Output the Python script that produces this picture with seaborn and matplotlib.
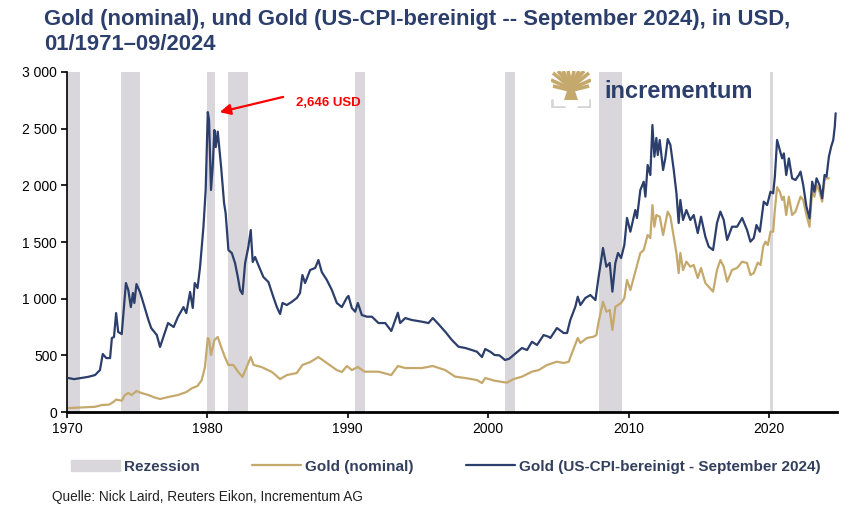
#!/usr/bin/env python3

# Imports:
import matplotlib

matplotlib.use("Agg")
import matplotlib.pyplot as plt
import matplotlib.patches as mpatches
import matplotlib.lines as mlines
import pandas as pd
import seaborn as sns

# Data (decimal year, USD).
real_years = [
    1970.1, 1970.5, 1971.0, 1971.5, 1972.0, 1972.35, 1972.55, 1972.8, 1973.07,
    1973.2, 1973.35, 1973.5, 1973.65, 1973.9, 1974.2, 1974.37, 1974.55, 1974.7,
    1974.8, 1974.95, 1975.2, 1975.44, 1975.8, 1976.0, 1976.4, 1976.63, 1976.87,
    1977.2, 1977.6, 1977.9, 1978.3, 1978.5, 1978.77, 1978.96, 1979.1, 1979.3,
    1979.48, 1979.72, 1979.88, 1980.03, 1980.12, 1980.26, 1980.38, 1980.5,
    1980.6, 1980.74, 1980.98, 1981.19, 1981.3, 1981.5, 1981.74, 1981.97,
    1982.17, 1982.33, 1982.5, 1982.69, 1982.92, 1983.09, 1983.23, 1983.4,
    1983.63, 1983.99, 1984.35, 1984.7, 1984.95, 1985.18, 1985.35, 1985.66,
    1986.0, 1986.37, 1986.6, 1986.77, 1986.96, 1987.32, 1987.68, 1987.91,
    1988.15, 1988.51, 1988.87, 1989.22, 1989.58, 1989.94, 1990.05, 1990.29,
    1990.53, 1990.72, 1991.0, 1991.36, 1991.72, 1992.19, 1992.67, 1993.1,
    1993.38, 1993.57, 1993.73, 1994.09, 1994.56, 1995.28, 1995.75, 1996.06,
    1996.46, 1996.94, 1997.42, 1997.89, 1998.37, 1998.84, 1999.2, 1999.56,
    1999.79, 2000.15, 2000.46, 2000.8, 2001.2, 2001.5, 2001.82, 2002.41,
    2002.77, 2003.12, 2003.48, 2003.95, 2004.31, 2004.43, 2004.9, 2005.38,
    2005.62, 2005.85, 2006.21, 2006.38, 2006.57, 2006.92, 2007.28, 2007.64,
    2007.87, 2008.18, 2008.42, 2008.66, 2008.85, 2009.06, 2009.25, 2009.47,
    2009.7, 2009.89, 2010.13, 2010.48, 2010.6, 2010.84, 2011.08, 2011.2,
    2011.36, 2011.55, 2011.7, 2011.84, 2011.98, 2012.08, 2012.22, 2012.46,
    2012.62, 2012.79, 2012.98, 2013.22, 2013.41, 2013.57, 2013.69, 2013.88,
    2014.12, 2014.4, 2014.64, 2014.93, 2015.16, 2015.47, 2015.71, 2016.02,
    2016.3, 2016.54, 2016.78, 2017.02, 2017.37, 2017.73, 2018.09, 2018.44,
    2018.68, 2018.92, 2019.11, 2019.35, 2019.63, 2019.87, 2020.11, 2020.3,
    2020.42, 2020.58, 2020.77, 2020.94, 2021.06, 2021.23, 2021.42, 2021.65,
    2021.89, 2022.13, 2022.25, 2022.44, 2022.67, 2022.89, 2023.08, 2023.24,
    2023.39, 2023.6, 2023.79, 2023.96, 2024.1, 2024.27, 2024.43, 2024.58,
    2024.69, 2024.75,
]
real_values = [
    300, 290, 300, 310, 326, 370, 512, 476, 476,
    653, 662, 873, 706, 688, 1138, 1076, 926, 1050,
    962, 1129, 1059, 962, 812, 741, 679, 574, 662,
    785, 750, 838, 926, 873, 1059, 918, 1138, 1094,
    1280, 1632, 1959, 2646, 2576, 1959, 2162, 2488,
    2338, 2474, 2162, 1844, 1756, 1429, 1403, 1315,
    1191, 1076, 1041, 1315, 1456, 1606, 1324, 1368,
    1297, 1191, 1147, 1015, 926, 865, 962, 944,
    971, 1006, 1050, 1209, 1138, 1253, 1271, 1341,
    1235, 1165, 1076, 962, 926, 1010, 1024, 918,
    885, 962, 856, 841, 841, 785, 785, 715,
    812, 876, 785, 829, 812, 797, 785, 829,
    776, 709, 635, 576, 565, 547, 532, 485,
    556, 532, 503, 500, 459, 470, 503, 565,
    547, 620, 591, 679, 664, 653, 741, 697,
    697, 812, 929, 1017, 944, 1006, 1032, 988,
    1194, 1447, 1282, 1315, 1062, 1315, 1403, 1359,
    1474, 1712, 1591, 1782, 1712, 1959, 2032, 1900,
    2179, 2091, 2532, 2253, 2418, 2268, 2400, 2135,
    2241, 2409, 2356, 2135, 1932, 1668, 1871, 1694,
    1782, 1694, 1738, 1579, 1723, 1547, 1459, 1429,
    1668, 1768, 1694, 1518, 1635, 1635, 1712, 1606,
    1503, 1535, 1650, 1591, 1856, 1826, 1944, 1929,
    2076, 2400, 2312, 2238, 2282, 2091, 2238, 2062,
    2047, 2091, 2121, 2003, 1812, 1709, 2032, 1944,
    2062, 2003, 1886, 2091, 2076, 2253, 2341, 2400,
    2518, 2636,
]

nominal_years = [
    1970.1, 1971.0, 1972.0, 1972.5, 1973.0, 1973.3, 1973.5, 1973.9, 1974.13,
    1974.37, 1974.6, 1974.95, 1975.3, 1975.8, 1976.2, 1976.63, 1977.2, 1977.9,
    1978.5, 1978.9, 1979.3, 1979.6, 1979.83, 1980.03, 1980.12, 1980.26, 1980.5,
    1980.74, 1980.98, 1981.25, 1981.5, 1981.85, 1982.2, 1982.5, 1982.8,
    1983.09, 1983.3, 1983.86, 1984.6, 1985.18, 1985.66, 1986.37, 1986.77,
    1987.32, 1987.91, 1988.51, 1989.22, 1989.58, 1989.94, 1990.29, 1990.72,
    1991.2, 1992.19, 1993.1, 1993.57, 1994.09, 1995.28, 1996.06, 1996.94,
    1997.65, 1998.37, 1999.2, 1999.56, 1999.79, 2000.46, 2001.34, 2001.82,
    2002.41, 2003.12, 2003.6, 2004.19, 2004.9, 2005.38, 2005.74, 2005.97,
    2006.38, 2006.57, 2007.04, 2007.52, 2007.71, 2007.87, 2008.18, 2008.42,
    2008.66, 2008.85, 2009.06, 2009.47, 2009.7, 2009.89, 2010.13, 2010.48,
    2010.84, 2011.08, 2011.36, 2011.55, 2011.7, 2011.84, 2011.98, 2012.22,
    2012.46, 2012.79, 2012.98, 2013.22, 2013.41, 2013.57, 2013.69, 2013.88,
    2014.12, 2014.4, 2014.64, 2014.93, 2015.16, 2015.47, 2016.02, 2016.3,
    2016.54, 2016.78, 2017.02, 2017.37, 2017.73, 2018.09, 2018.44, 2018.68,
    2018.92, 2019.2, 2019.4, 2019.59, 2019.75, 2019.92, 2020.11, 2020.3,
    2020.42, 2020.58, 2020.77, 2020.94, 2021.06, 2021.23, 2021.42, 2021.65,
    2021.89, 2022.25, 2022.44, 2022.67, 2022.89, 2023.08, 2023.24, 2023.39,
    2023.6, 2023.79, 2023.96, 2024.1, 2024.27,
]
nominal_values = [
    35, 40, 46, 62, 65, 88, 110, 100, 150,
    168, 150, 185, 168, 150, 130, 115, 132, 150,
    176, 210, 230, 282, 397, 653, 640, 503, 635,
    662, 574, 485, 415, 415, 353, 309, 397,
    485, 415, 397, 353, 291, 326, 344, 415,
    441, 485, 432, 370, 353, 406, 370, 397,
    356, 356, 326, 406, 388, 388, 406, 370,
    312, 300, 282, 256, 300, 276, 259, 291,
    312, 356, 370, 415, 444, 432, 444, 521,
    653, 609, 653, 665, 679, 797, 973, 885,
    900, 724, 929, 962, 1006, 1165, 1076, 1238,
    1403, 1429, 1562, 1535, 1826, 1635, 1738, 1723,
    1562, 1768, 1723, 1547, 1403, 1226, 1403, 1253,
    1326, 1282, 1297, 1182, 1271, 1138, 1062, 1253,
    1341, 1282, 1150, 1253, 1271, 1326, 1315, 1209,
    1226, 1318, 1297, 1459, 1503, 1473, 1591, 1591,
    1782, 1983, 1944, 1871, 1900, 1738, 1900, 1738,
    1768, 1900, 1871, 1738, 1635, 1959, 1900, 2003,
    1944, 1856, 2047, 2062, 2062,
]

recession_start = [1970.0, 1973.85, 1980.0, 1981.5, 1990.53, 2001.2, 2007.9, 2020.1]
recession_end = [1970.9, 1975.2, 1980.55, 1982.9, 1991.2, 2001.9, 2009.5, 2020.3]

peak_year = 1980.03
peak_value = 2646
peak_label = "2,646 USD"

x_ticks = [1970, 1980, 1990, 2000, 2010, 2020]
y_ticks = [0, 500, 1000, 1500, 2000, 2500, 3000]

title_text = (
    "Gold (nominal), und Gold (US-CPI-bereinigt -- September 2024), in USD,\n"
    "01/1971\u201309/2024"
)
source_text = "Quelle: Nick Laird, Reuters Eikon, Incrementum AG"
label_recession = "Rezession"
label_nominal = "Gold (nominal)"
label_real = "Gold (US-CPI-bereinigt - September 2024)"

NAVY = "#2C3E6B"
GOLD = "#C5A96C"
GREY = "#D9D7DB"
TEXT = "#333F5C"

sns.set_style("white")
plt.rcParams["font.family"] = ["Liberation Sans", "DejaVu Sans"]
NARROW = ["Liberation Sans Narrow", "Liberation Sans", "DejaVu Sans"]

real_df = pd.DataFrame({"year": real_years, "value": real_values})
nominal_df = pd.DataFrame({"year": nominal_years, "value": nominal_values})

fig = plt.figure(figsize=(8.64, 5.24), dpi=100)
ax = fig.add_axes([0.0775, 0.2137, 0.8913, 0.6489])

for start, end in zip(recession_start, recession_end):
    ax.axvspan(start, end, color=GREY, lw=0, zorder=0)

sns.lineplot(data=nominal_df, x="year", y="value", ax=ax, color=GOLD,
             linewidth=1.6, zorder=2)
sns.lineplot(data=real_df, x="year", y="value", ax=ax, color=NAVY,
             linewidth=1.6, zorder=3)

ax.set_xlim(1970, 2024.85)
ax.set_ylim(0, 3000)
ax.set_xticks(x_ticks)
ax.set_yticks(y_ticks)
ax.set_yticklabels([f"{v:,}".replace(",", " ") for v in y_ticks])
ax.set_xlabel("")
ax.set_ylabel("")
ax.tick_params(axis="both", direction="out", length=4, width=1.2,
               labelsize=10, colors="black", pad=3, left=True, bottom=True)
for side in ["top", "right"]:
    ax.spines[side].set_visible(False)
ax.spines["left"].set_linewidth(1.2)
ax.spines["left"].set_color("black")
ax.spines["bottom"].set_linewidth(2)
ax.spines["bottom"].set_color("black")

# Peak annotation
ax.annotate("", xy=(peak_year + 0.85, peak_value), xytext=(1985.4, 2780),
            arrowprops=dict(arrowstyle="-|>", color="red", lw=1.6,
                            mutation_scale=16, shrinkA=0, shrinkB=0))
ax.text(1986.3, 2725, peak_label, color="red", fontsize=9.5,
        fontweight="bold", va="center", ha="left")

# Title and source
fig.text(0.051, 0.983, title_text, fontsize=15.8, fontweight="bold",
         color=NAVY, va="top", ha="left", linespacing=1.25)
fig.text(0.060, 0.052, source_text, fontsize=9.8, family=NARROW,
         color="#222222", va="center", ha="left")

# Legend
handles = [
    mpatches.Patch(color=GREY, label=label_recession),
    mlines.Line2D([], [], color=GOLD, lw=1.6, label=label_nominal),
    mlines.Line2D([], [], color=NAVY, lw=1.6, label=label_real),
]
fig.legend(handles=handles, loc="center", bbox_to_anchor=(0.516, 0.109),
           ncol=3, frameon=False, handlelength=3.2, handleheight=0.8,
           handletextpad=0.3, columnspacing=3.4,
           prop={"family": NARROW, "weight": "bold", "size": 11},
           labelcolor=TEXT)

# Logo: tree mark and word mark
logo = fig.add_axes([551 / 864, 1 - 108 / 524, 40 / 864, 37 / 524])
logo.set_xlim(0, 40)
logo.set_ylim(0, 37)
logo.axis("off")
logo.add_patch(mpatches.Polygon(
    [[13, 8], [27, 8], [24, 17], [22, 24], [18, 24], [16, 17]],
    color=GOLD, lw=0))
for base, tip in [((18, 22), (2, 35)), ((19, 23), (7, 37)),
                  ((19, 23), (12, 37)), ((20, 23), (17, 37)),
                  ((20, 23), (23, 37)), ((21, 23), (28, 37)),
                  ((21, 23), (33, 37)), ((22, 22), (38, 35)),
                  ((18, 20), (0, 28)), ((22, 20), (40, 28)),
                  ((18, 18), (2, 22)), ((22, 18), (38, 22))]:
    logo.plot([base[0], tip[0]], [base[1], tip[1]], color=GOLD, lw=2.6,
              solid_capstyle="butt")
logo.plot([1, 1, 13], [8, 1, 1], color="#D6D6D6", lw=2)
logo.plot([27, 39, 39], [1, 1, 8], color="#D6D6D6", lw=2)
fig.text(604 / 864, 1 - 91 / 524, "incrementum", fontsize=17,
         fontweight="bold", color=NAVY, va="center", ha="left")

fig.savefig("out.png", dpi=100)
